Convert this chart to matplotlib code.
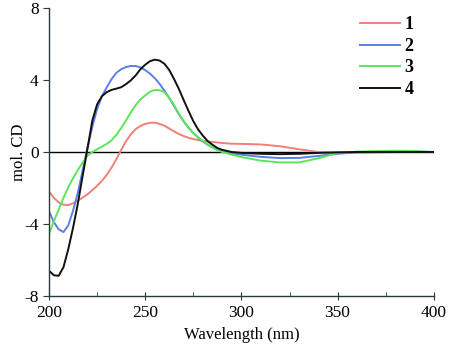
import numpy as np
import matplotlib
matplotlib.use('Agg')
import matplotlib.pyplot as plt

# CD spectra
wavelength = [200, 202.5, 205, 207.5, 210, 212.5, 215, 217.5, 220, 222.5, 225, 227.5, 230, 232.5,
              235, 237.5, 240, 242.5, 245, 247.5, 250, 252.5, 255, 257.5, 260, 262.5, 265, 267.5,
              270, 272.5, 275, 277.5, 280, 282.5, 285, 287.5, 290, 295, 300, 310, 320, 330, 340,
              350, 360, 370, 380, 390, 400]
cd_1 = [-2.2, -2.55, -2.8, -2.93, -2.95, -2.85, -2.7, -2.53, -2.35, -2.12, -1.88, -1.6, -1.27, -0.87,
        -0.4, 0.12, 0.6, 0.98, 1.27, 1.45, 1.56, 1.62, 1.63, 1.56, 1.46, 1.3, 1.14, 1.0,
        0.88, 0.79, 0.72, 0.66, 0.62, 0.59, 0.56, 0.53, 0.5, 0.46, 0.45, 0.42, 0.32, 0.15, 0.0,
        -0.05, -0.04, -0.02, 0.0, 0.0, 0.0]
cd_2 = [-3.3, -3.9, -4.3, -4.45, -4.08, -3.25, -2.25, -1.0, 0.25, 1.4, 2.4, 3.1, 3.6, 4.05,
        4.4, 4.6, 4.72, 4.78, 4.78, 4.7, 4.55, 4.35, 4.1, 3.78, 3.4, 3.0, 2.55, 2.1,
        1.7, 1.35, 1.05, 0.8, 0.58, 0.4, 0.25, 0.13, 0.05, -0.08, -0.15, -0.27, -0.34, -0.33, -0.22,
        -0.1, -0.02, 0.0, 0.0, 0.02, 0.0]
cd_3 = [-4.55, -3.85, -3.2, -2.55, -1.95, -1.45, -1.0, -0.58, -0.2, 0.0, 0.15, 0.3, 0.45, 0.65,
        0.95, 1.33, 1.75, 2.2, 2.6, 2.92, 3.15, 3.35, 3.45, 3.43, 3.32, 3.0, 2.6, 2.12,
        1.7, 1.35, 1.05, 0.8, 0.62, 0.43, 0.25, 0.1, 0.0, -0.15, -0.28, -0.48, -0.58, -0.58, -0.35,
        -0.05, 0.02, 0.05, 0.07, 0.05, 0.0]
cd_4 = [-6.6, -6.85, -6.88, -6.4, -5.4, -4.2, -2.85, -1.3, 0.2, 1.75, 2.65, 3.1, 3.33, 3.45,
        3.52, 3.6, 3.77, 3.98, 4.25, 4.6, 4.85, 5.05, 5.13, 5.08, 4.9, 4.55, 4.05, 3.5,
        2.88, 2.28, 1.71, 1.25, 0.9, 0.6, 0.4, 0.22, 0.12, 0.0, -0.05, -0.1, -0.12, -0.1, -0.05,
        -0.02, 0.0, 0.0, 0.0, 0.0, 0.0]

labels = ['1', '2', '3', '4']
colors = ['#f08078', '#5a7fe6', '#5ae65a', '#111111']

plt.rcParams['font.family'] = ['Liberation Serif', 'DejaVu Serif']
plt.rcParams['axes.unicode_minus'] = False

fig = plt.figure(figsize=(4.5, 3.49), dpi=100)
ax = fig.add_axes([0.109, 0.152, 0.855, 0.825])

for y, lab, c in zip([cd_1, cd_2, cd_3, cd_4], labels, colors):
    ax.plot(wavelength, y, color=c, lw=1.4, label=lab)

ax.axhline(0, color='black', lw=1.0, zorder=0)

ax.set_xlim(200, 400)
ax.set_ylim(-8, 8)
ax.set_xticks([200, 250, 300, 350, 400])
ax.set_xticks([225, 275, 325, 375], minor=True)
ax.set_yticks([-8, -4, 0, 4, 8])
ax.spines['top'].set_visible(False)
ax.spines['right'].set_visible(False)
for s in ['left', 'bottom']:
    ax.spines[s].set_color('#2a3a3a')
    ax.spines[s].set_linewidth(1.0)
ax.tick_params(axis='x', which='major', direction='inout', length=6, labelsize=12.5, colors='#2a3a3a', labelcolor='black')
ax.tick_params(axis='x', which='minor', direction='in', length=3, colors='#2a3a3a')
ax.tick_params(axis='y', which='major', direction='out', length=4, labelsize=12.5, colors='#2a3a3a', labelcolor='black')

ax.set_xlabel('Wavelength (nm)', fontsize=12, labelpad=4)
ax.set_ylabel('mol. CD', fontsize=12, labelpad=-2)

leg = ax.legend(loc='upper left', bbox_to_anchor=(0.808, 0.971), frameon=False,
                borderaxespad=0, borderpad=0,
                handlelength=2.2, handletextpad=0.28, labelspacing=0.25,
                prop={'weight': 'bold', 'size': 13})

fig.savefig('out.png', dpi=100)
